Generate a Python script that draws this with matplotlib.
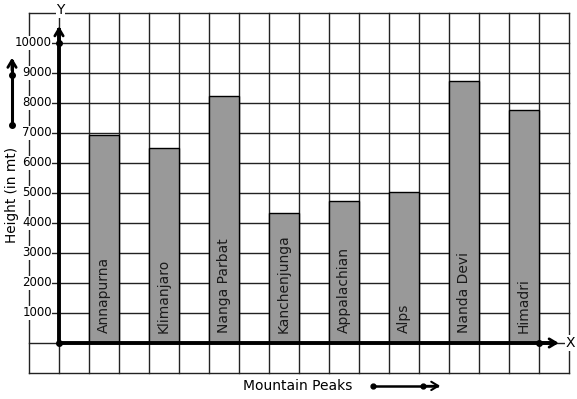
import numpy as np
import matplotlib.pyplot as plt

# data
peaks = ['Annapurna', 'Klimanjaro', 'Nanga Parbat', 'Kanchenjunga',
         'Appalachian', 'Alps', 'Nanda Devi', 'Himadri']
heights = [6920, 6500, 8220, 4330, 4720, 5030, 8720, 7780]
yticks = [1000, 2000, 3000, 4000, 5000, 6000, 7000, 8000, 9000, 10000]

# one grid cell = 1 unit in x, 1000 in y (30 px each)
fig = plt.figure(figsize=(5.77, 3.99), dpi=100)
ax = fig.add_axes([0, 0, 1, 1])
ax.set_xlim(-59 / 30, (577 - 59) / 30)
ax.set_ylim((343 - 399) / 30 * 1000, 343 / 30 * 1000)
ax.axis('off')

# grid paper
for gx in range(-1, 18):
    ax.plot([gx, gx], [-1000, 11000], color='#222222', lw=1, zorder=1)
for gy in range(-1000, 12000, 1000):
    ax.plot([-1, 17], [gy, gy], color='#222222', lw=1, zorder=1)

# bars
xpos = np.arange(len(peaks)) * 2 + 1.5
ax.bar(xpos, heights, width=1, color='#999999', edgecolor='black',
       linewidth=1, zorder=2)
for x, name in zip(xpos, peaks):
    ax.text(x, 330, name, rotation=90, ha='center', va='bottom',
            fontsize=10, color='#1a1a1a', zorder=3)

# axes with arrows
ax.plot([0, 0], [0, 10450], color='black', lw=2.8, zorder=4)
ax.plot([0, 16.5], [0, 0], color='black', lw=2.8, zorder=4)
ax.annotate('', xy=(0, 10650), xytext=(0, 10000),
            arrowprops=dict(arrowstyle='->,head_length=0.5,head_width=0.3',
                            lw=2, color='black'), zorder=5)
ax.annotate('', xy=(16.75, 0), xytext=(16, 0),
            arrowprops=dict(arrowstyle='->,head_length=0.5,head_width=0.3',
                            lw=2, color='black'), zorder=5)
ax.plot([0, 0, 16], [0, 10000, 0], 'o', color='black', ms=4, zorder=5)
ax.text(0.05, 11100, 'Y', ha='center', va='center', fontsize=10,
        bbox=dict(facecolor='white', edgecolor='none', pad=0.5), zorder=5)
ax.text(16.9, 0, 'X', ha='left', va='center', fontsize=10,
        bbox=dict(facecolor='white', edgecolor='none', pad=0.5), zorder=5)

# tick labels
for t in yticks:
    ax.text(-0.24, t, str(t), ha='right', va='center', fontsize=8.5,
            bbox=dict(facecolor='white', edgecolor='none', pad=0.3), zorder=3)

# axis titles with their little arrows
ax.text(-1.567, 4930, 'Height (in mt)', rotation=90, ha='center',
        va='center', fontsize=9.8,
        bbox=dict(facecolor='white', edgecolor='none', pad=0.5), zorder=3)
ax.plot([-1.567, -1.567], [7270, 9400], color='black', lw=2.2, zorder=3)
ax.annotate('', xy=(-1.567, 9600), xytext=(-1.567, 9000),
            arrowprops=dict(arrowstyle='->,head_length=0.5,head_width=0.3',
                            lw=2, color='black'), zorder=3)
ax.plot([-1.567, -1.567], [7270, 8930], 'o', color='black', ms=4, zorder=3)

ax.text(7.97, -1420, 'Mountain Peaks', ha='center', va='center', fontsize=10)
ax.plot([10.45, 12.6], [-1430, -1430], color='black', lw=1.8)
ax.annotate('', xy=(12.8, -1430), xytext=(12.1, -1430),
            arrowprops=dict(arrowstyle='->,head_length=0.5,head_width=0.3',
                            lw=1.5, color='black'))
ax.plot([10.45, 12.13], [-1430, -1430], 'o', color='black', ms=3.5)

fig.savefig('out.png', dpi=100)
